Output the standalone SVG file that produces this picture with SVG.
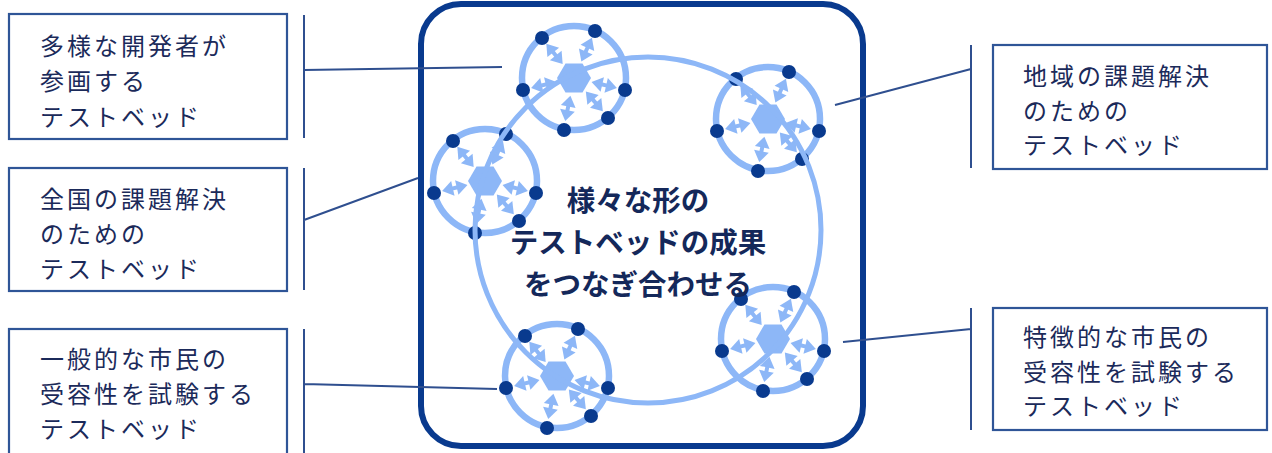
<svg xmlns="http://www.w3.org/2000/svg" xmlns:xlink="http://www.w3.org/1999/xlink" width="1272" height="453" viewBox="0 0 1272 453">
<style>
.box{fill:#fff;stroke:#2F5597;stroke-width:2.2}
.lbl{font-family:"Noto Sans CJK JP","Noto Sans",sans-serif;font-size:24px;letter-spacing:3px;fill:#1B2A5A}
.ctr{font-family:"Noto Sans CJK JP","Noto Sans",sans-serif;font-size:28.5px;font-weight:bold;fill:#14285A;text-anchor:middle}
.conn{stroke:#2F4F8F;stroke-width:2;fill:none}
.lb{fill:#8DB7F7}
.ring{fill:none;stroke:#8DB7F7;stroke-width:6.5}
.dot{fill:#093A8E}
</style>
<defs>
<g id="arr">
<polygon class="lb" points="0,0 11,-7.5 11,7.5"/>
<rect class="lb" x="10" y="-2" width="6" height="4"/>
<polygon class="lb" points="26,0 15,-7.5 15,7.5"/>
</g>
<g id="hubIcon">
<circle class="ring" r="52"/>
<use xlink:href="#arr" href="#arr" transform="rotate(-129) translate(18,0)"/>
<use xlink:href="#arr" href="#arr" transform="rotate(-66) translate(18,0)"/>
<use xlink:href="#arr" href="#arr" transform="rotate(167) translate(18,0)"/>
<use xlink:href="#arr" href="#arr" transform="rotate(13) translate(18,0)"/>
<use xlink:href="#arr" href="#arr" transform="rotate(49) translate(18,0)"/>
<use xlink:href="#arr" href="#arr" transform="rotate(101.5) translate(18,0)"/>
<polygon class="lb" points="-17,0 -8.5,-14.5 8.5,-14.5 17,0 8.5,14.5 -8.5,14.5"/>
<circle class="dot" cx="-32" cy="-40" r="7"/>
<circle class="dot" cx="21" cy="-47" r="7"/>
<circle class="dot" cx="-51" cy="12" r="7"/>
<circle class="dot" cx="51" cy="12" r="7"/>
<circle class="dot" cx="34" cy="40" r="7"/>
<circle class="dot" cx="-10" cy="52" r="7"/>
</g>
</defs>

<rect id="frame" x="421" y="4" width="442" height="442" rx="40" fill="none" stroke="#093A8E" stroke-width="6"/>

<g id="hub1"><use xlink:href="#hubIcon" href="#hubIcon" transform="translate(574,78)"/></g>
<g id="hub2"><use xlink:href="#hubIcon" href="#hubIcon" transform="translate(485,181)"/></g>
<g id="hub3"><use xlink:href="#hubIcon" href="#hubIcon" transform="translate(768,119)"/></g>
<g id="hub4"><use xlink:href="#hubIcon" href="#hubIcon" transform="translate(773,339)"/></g>
<g id="hub5"><use xlink:href="#hubIcon" href="#hubIcon" transform="translate(557,376)"/></g>

<g id="loop"><circle cx="648" cy="230" r="173" fill="none" stroke="#8DB7F7" stroke-width="5"/></g>

<g id="center-text">
<text class="ctr" x="638" y="211">様々な形の</text>
<text class="ctr" x="638" y="253">テストベッドの成果</text>
<text class="ctr" x="638" y="295">をつなぎ合わせる</text>
</g>

<g id="connectors">
<path class="conn" d="M304,15 V138 M304,70 L502,67"/>
<path class="conn" d="M304,168 V290 M304,220 L418,178"/>
<path class="conn" d="M304,329 V453 M304,384 L497,389"/>
<path class="conn" d="M971,45 V168 M971,69 L835,105"/>
<path class="conn" d="M971,308 V430 M971,329 L843,342"/>
</g>

<g id="box-l1">
<rect class="box" x="9" y="14" width="278" height="125"/>
<text class="lbl" x="40" y="55">多様な開発者が</text>
<text class="lbl" x="40" y="90">参画する</text>
<text class="lbl" x="40" y="126">テストベッド</text>
</g>
<g id="box-l2">
<rect class="box" x="9" y="168" width="278" height="123"/>
<text class="lbl" x="40" y="208">全国の課題解決</text>
<text class="lbl" x="40" y="243">のための</text>
<text class="lbl" x="40" y="278">テストベッド</text>
</g>
<g id="box-l3">
<rect class="box" x="9" y="329" width="278" height="130"/>
<text class="lbl" x="40" y="368">一般的な市民の</text>
<text class="lbl" x="40" y="403">受容性を試験する</text>
<text class="lbl" x="40" y="438">テストベッド</text>
</g>
<g id="box-r1">
<rect class="box" x="993" y="45" width="274" height="124"/>
<text class="lbl" x="1023" y="85">地域の課題解決</text>
<text class="lbl" x="1023" y="120">のための</text>
<text class="lbl" x="1023" y="154">テストベッド</text>
</g>
<g id="box-r2">
<rect class="box" x="993" y="308" width="274" height="122"/>
<text class="lbl" x="1023" y="346">特徴的な市民の</text>
<text class="lbl" x="1023" y="381">受容性を試験する</text>
<text class="lbl" x="1023" y="415">テストベッド</text>
</g>
</svg>
